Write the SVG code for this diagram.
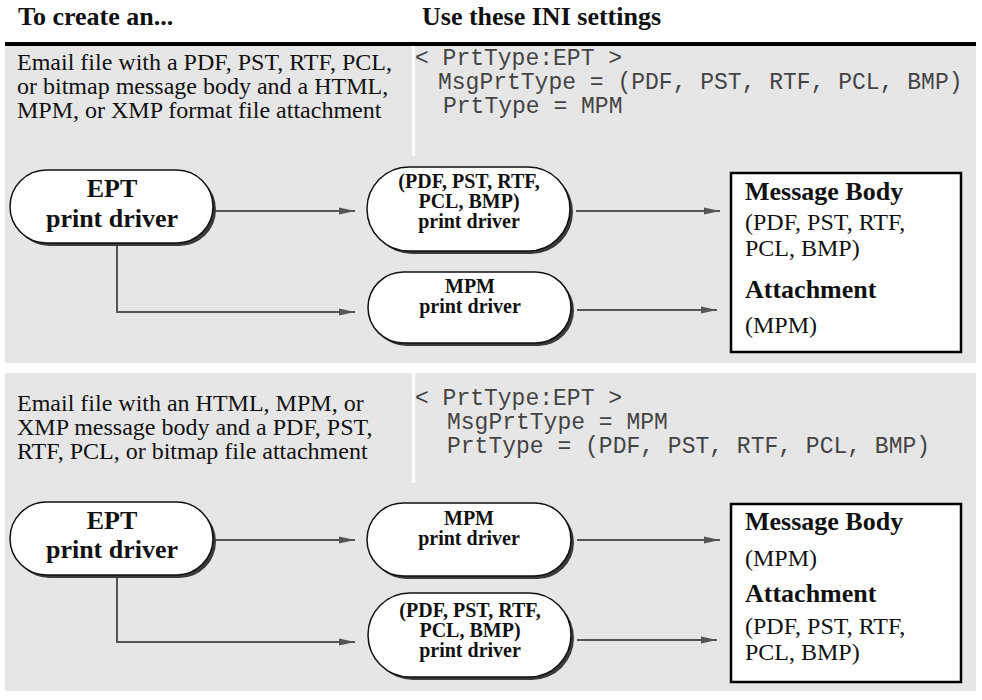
<svg xmlns="http://www.w3.org/2000/svg" width="982" height="700" viewBox="0 0 982 700">
<defs>
<marker id="ah" viewBox="0 0 16 8" refX="16" refY="4" markerWidth="16" markerHeight="8" markerUnits="userSpaceOnUse" orient="auto">
<path d="M0,0.6 L16,4 L0,7.4 Z" fill="#555"/>
</marker>
<style>
.band{fill:#e6e6e6}
.sep{fill:#ffffff}
.hdr{font-family:"Liberation Serif","Times New Roman",serif;font-weight:bold;font-size:26px;fill:#111}
.desc{font-family:"Liberation Serif","Times New Roman",serif;font-size:24px;fill:#111}
.mono{font-family:"Liberation Mono","Courier New",monospace;font-size:23px;fill:#444;white-space:pre}
.pill{fill:#fff;stroke:#111;stroke-width:1.5}
.shadow{fill:#3a3a3a}
.big{font-family:"Liberation Serif","Times New Roman",serif;font-weight:bold;font-size:26px;fill:#111;text-anchor:middle}
.small{font-family:"Liberation Serif","Times New Roman",serif;font-weight:bold;font-size:20px;fill:#111;text-anchor:middle}
.box{fill:#fff;stroke:#000;stroke-width:2.5}
.bh{font-family:"Liberation Serif","Times New Roman",serif;font-weight:bold;font-size:26px;fill:#111}
.bt{font-family:"Liberation Serif","Times New Roman",serif;font-size:24px;fill:#111}
.conn{fill:none;stroke:#555;stroke-width:2}
</style>
</defs>

<g id="header">
<text class="hdr" x="18" y="25">To create an...</text>
<text class="hdr" x="422" y="25">Use these INI settings</text>
<rect x="5" y="42" width="971" height="4" fill="#000"/>
</g>

<g id="bands">
<rect class="band" x="5" y="46" width="971" height="317"/>
<rect class="sep" x="412" y="46" width="3" height="110"/>
<rect class="band" x="5" y="373" width="971" height="318"/>
<rect class="sep" x="412" y="373" width="3" height="110"/>
</g>

<g id="row1-text">
<text class="desc" x="17" y="70">Email file with a PDF, PST, RTF, PCL,</text>
<text class="desc" x="17" y="94">or bitmap message body and a HTML,</text>
<text class="desc" x="17" y="118">MPM, or XMP format file attachment</text>
<text class="mono" x="415" y="65">&lt; PrtType:EPT &gt;</text>
<text class="mono" x="438" y="89">MsgPrtType = (PDF, PST, RTF, PCL, BMP)</text>
<text class="mono" x="443" y="113">PrtType = MPM</text>
</g>

<g id="row2-text">
<text class="desc" x="17" y="411">Email file with an HTML, MPM, or</text>
<text class="desc" x="17" y="435">XMP message body and a PDF, PST,</text>
<text class="desc" x="17" y="459">RTF, PCL, or bitmap file attachment</text>
<text class="mono" x="415" y="405">&lt; PrtType:EPT &gt;</text>
<text class="mono" x="447" y="429">MsgPrtType = MPM</text>
<text class="mono" x="447" y="453">PrtType = (PDF, PST, RTF, PCL, BMP)</text>
</g>

<g id="connectors">
<path class="conn" d="M215,211 H355" marker-end="url(#ah)"/>
<path class="conn" d="M117,245 V312 H355" marker-end="url(#ah)"/>
<path class="conn" d="M576,211 H720" marker-end="url(#ah)"/>
<path class="conn" d="M577,310 H717" marker-end="url(#ah)"/>
<path class="conn" d="M215,540 H355" marker-end="url(#ah)"/>
<path class="conn" d="M117,577 V642 H355" marker-end="url(#ah)"/>
<path class="conn" d="M577,540 H720" marker-end="url(#ah)"/>
<path class="conn" d="M577,640 H717" marker-end="url(#ah)"/>
</g>

<g id="ept1">
<rect class="shadow" x="13" y="173" width="203" height="73" rx="36.5"/>
<rect class="pill" x="10" y="170" width="203" height="73" rx="36.5"/>
<text class="big" x="112" y="197">EPT</text>
<text class="big" x="112" y="227">print driver</text>
</g>
<g id="pdf1">
<rect class="shadow" x="370" y="170" width="203" height="84" rx="42"/>
<rect class="pill" x="367" y="167" width="203" height="84" rx="42"/>
<text class="small" x="469" y="188">(PDF, PST, RTF,</text>
<text class="small" x="469" y="208">PCL, BMP)</text>
<text class="small" x="469" y="228">print driver</text>
</g>
<g id="mpm1">
<rect class="shadow" x="371" y="275" width="203" height="71" rx="35.5"/>
<rect class="pill" x="368" y="272" width="203" height="71" rx="35.5"/>
<text class="small" x="470" y="293">MPM</text>
<text class="small" x="470" y="313">print driver</text>
</g>
<g id="result1">
<rect class="box" x="731" y="173" width="230" height="179"/>
<text class="bh" x="745" y="200">Message Body</text>
<text class="bt" x="745" y="230">(PDF, PST, RTF,</text>
<text class="bt" x="745" y="256">PCL, BMP)</text>
<text class="bh" x="745" y="298">Attachment</text>
<text class="bt" x="745" y="333">(MPM)</text>
</g>

<g id="ept2">
<rect class="shadow" x="13" y="505" width="203" height="73" rx="36.5"/>
<rect class="pill" x="10" y="502" width="203" height="73" rx="36.5"/>
<text class="big" x="112" y="529">EPT</text>
<text class="big" x="112" y="558">print driver</text>
</g>
<g id="mpm2">
<rect class="shadow" x="370" y="506" width="204" height="73" rx="36.5"/>
<rect class="pill" x="367" y="503" width="204" height="73" rx="36.5"/>
<text class="small" x="469" y="525">MPM</text>
<text class="small" x="469" y="545">print driver</text>
</g>
<g id="pdf2">
<rect class="shadow" x="371" y="596" width="203" height="84" rx="42"/>
<rect class="pill" x="368" y="593" width="203" height="84" rx="42"/>
<text class="small" x="470" y="617">(PDF, PST, RTF,</text>
<text class="small" x="470" y="637">PCL, BMP)</text>
<text class="small" x="470" y="657">print driver</text>
</g>
<g id="result2">
<rect class="box" x="731" y="504" width="230" height="178"/>
<text class="bh" x="745" y="530">Message Body</text>
<text class="bt" x="745" y="566">(MPM)</text>
<text class="bh" x="745" y="602">Attachment</text>
<text class="bt" x="745" y="634">(PDF, PST, RTF,</text>
<text class="bt" x="745" y="660">PCL, BMP)</text>
</g>
</svg>
